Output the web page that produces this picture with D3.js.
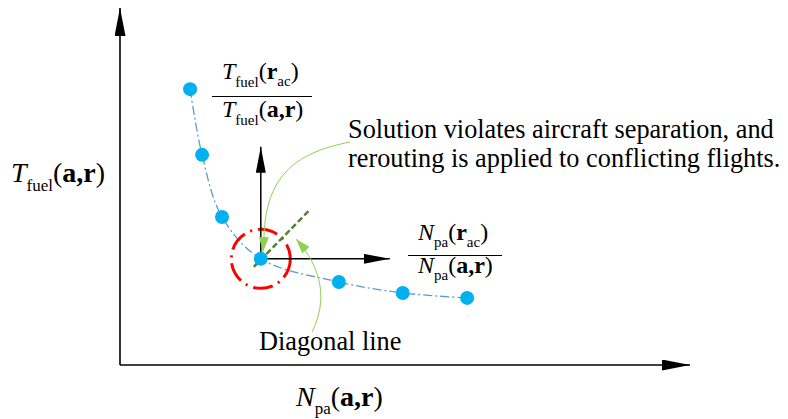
<!DOCTYPE html>
<html><head><meta charset="utf-8">
<script src="https://cdn.jsdelivr.net/npm/d3@7"></script>
<style>body{margin:0;background:#fff}svg{display:block}text{font-family:"Liberation Serif","Times New Roman",serif;fill:#000}</style>
</head><body>
<script>
// Data (arbitrary units on the Pareto-front sketch)
const xValues = [12.3, 14.4, 17.9, 24.7, 38.4, 49.6, 60.9];
const yValues = [77.7, 59.2, 41.7, 29.9, 23.4, 20.3, 18.9];
const selectedIndex = 3;
const annotationText = ["Solution violates aircraft separation, and", "rerouting is applied to conflicting flights."];
const diagonalLabel = "Diagonal line";

const W = 788, H = 419;
const svg = d3.select("body").append("svg").attr("width", W).attr("height", H)
  .attr("font-family", "'Liberation Serif', 'Times New Roman', serif");
const x = d3.scaleLinear().domain([0, 100]).range([120, 690]);
const y = d3.scaleLinear().domain([0, 100]).range([365, 10]);
const pts = xValues.map((v, i) => [x(v), y(yValues[i])]);

const defs = svg.append("defs");
function marker(id, color, len, wid) {
  defs.append("marker").attr("id", id).attr("viewBox", `0 0 ${len} ${wid}`)
    .attr("refX", len).attr("refY", wid / 2).attr("markerWidth", len).attr("markerHeight", wid)
    .attr("markerUnits", "userSpaceOnUse").attr("orient", "auto")
    .append("path").attr("d", `M0,0 L${len},${wid/2} L0,${wid} Z`).attr("fill", color);
}
marker("bigArrow", "#000", 28, 11);
marker("midArrow", "#000", 26, 10);
marker("greenArrow", "#92d050", 15, 10);

// main axes
svg.append("line").attr("x1", x(0)).attr("y1", y(0)).attr("x2", x(0)).attr("y2", y(100) - 2)
  .attr("stroke", "#000").attr("stroke-width", 1.6).attr("marker-end", "url(#bigArrow)");
svg.append("line").attr("x1", x(0)).attr("y1", y(0)).attr("x2", x(100)).attr("y2", y(0))
  .attr("stroke", "#000").attr("stroke-width", 1.6).attr("marker-end", "url(#bigArrow)");

// curve
svg.append("path").datum(pts).attr("d", d3.line().curve(d3.curveCatmullRom.alpha(0.5)))
  .attr("fill", "none").attr("stroke", "#5b9bd5").attr("stroke-width", 1.3)
  .attr("stroke-dasharray", "9,3,2,3");

const [ox, oy] = pts[selectedIndex];

// red dash-dot circle
svg.append("circle").attr("cx", ox).attr("cy", oy).attr("r", 29.5)
  .attr("fill", "none").attr("stroke", "#ff0000").attr("stroke-width", 3)
  .attr("stroke-dasharray", "20,6,2,6");

// inner axes
svg.append("line").attr("x1", ox).attr("y1", oy).attr("x2", ox).attr("y2", oy - 112)
  .attr("stroke", "#000").attr("stroke-width", 1.5).attr("marker-end", "url(#midArrow)");
svg.append("line").attr("x1", ox).attr("y1", oy).attr("x2", ox + 129).attr("y2", oy)
  .attr("stroke", "#000").attr("stroke-width", 1.5).attr("marker-end", "url(#midArrow)");

// diagonal dashed line
svg.append("line").attr("x1", ox - 7).attr("y1", oy + 8).attr("x2", ox + 49).attr("y2", oy - 49)
  .attr("stroke", "#548235").attr("stroke-width", 2.5).attr("stroke-dasharray", "6,3");

// green arrows
svg.append("path").attr("d", `M350,142 C300,152 266,172 264,236 L263,252`)
  .attr("fill", "none").attr("stroke", "#92d050").attr("stroke-width", 1).attr("marker-end", "url(#greenArrow)");
svg.append("path").attr("d", `M312,332 C328,300 322,268 296,239`)
  .attr("fill", "none").attr("stroke", "#92d050").attr("stroke-width", 1).attr("marker-end", "url(#greenArrow)");

// points
svg.selectAll("circle.pt").data(pts).join("circle").attr("class", "pt")
  .attr("cx", d => d[0]).attr("cy", d => d[1]).attr("r", 7).attr("fill", "#00b0f0");

// text helpers
function mathLabel(xp, yp, size, parts, anchor) {
  const t = svg.append("text").attr("x", xp).attr("y", yp).attr("font-size", size).attr("text-anchor", anchor || "start");
  parts.forEach(p => {
    const s = t.append("tspan").text(p.t);
    if (p.i) s.attr("font-style", "italic");
    if (p.b) s.attr("font-weight", "bold");
    if (p.sub) s.attr("font-size", p.sub).attr("dy", p.dy);
    if (p.up) s.attr("dy", p.up);
  });
  return t;
}

// y-axis label
mathLabel(11, 182, 28, [{t: "T", i: true}, {t: "fuel", sub: 17, dy: 9}, {t: "(", up: -9}, {t: "a,r", b: true}, {t: ")"}]);
// x-axis label
mathLabel(296, 406, 28, [{t: "N", i: true}, {t: "pa", sub: 17, dy: 8}, {t: "(", up: -8}, {t: "a,r", b: true}, {t: ")"}]);

// fraction T
mathLabel(222, 79, 24, [{t: "T", i: true}, {t: "fuel", sub: 15, dy: 8}, {t: "(", up: -8}, {t: "r", b: true}, {t: "ac", sub: 15, dy: 7}, {t: ")", up: -7}]);
svg.append("line").attr("x1", 212).attr("x2", 312).attr("y1", 96.5).attr("y2", 96.5).attr("stroke", "#000").attr("stroke-width", 1.2);
mathLabel(222, 117, 24, [{t: "T", i: true}, {t: "fuel", sub: 15, dy: 8}, {t: "(", up: -8}, {t: "a,r", b: true}, {t: ")"}]);

// fraction N
mathLabel(418, 240, 24, [{t: "N", i: true}, {t: "pa", sub: 15, dy: 7}, {t: "(", up: -7}, {t: "r", b: true}, {t: "ac", sub: 15, dy: 7}, {t: ")", up: -7}]);
svg.append("line").attr("x1", 408).attr("x2", 502).attr("y1", 255.5).attr("y2", 255.5).attr("stroke", "#000").attr("stroke-width", 1.2);
mathLabel(418, 273, 24, [{t: "N", i: true}, {t: "pa", sub: 15, dy: 7}, {t: "(", up: -7}, {t: "a,r", b: true}, {t: ")"}]);

// annotation
svg.append("text").attr("x", 348).attr("y", 138).attr("font-size", 26.3).text(annotationText[0]);
svg.append("text").attr("x", 348).attr("y", 167).attr("font-size", 26.3).text(annotationText[1]);
svg.append("text").attr("x", 259).attr("y", 350).attr("font-size", 26.3).text(diagonalLabel);
</script>
</body></html>
